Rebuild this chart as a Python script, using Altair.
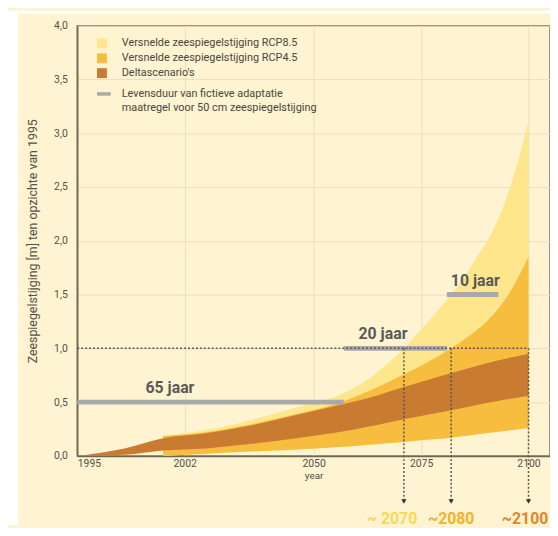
import altair as alt
import pandas as pd

# ---------------- data ----------------
x_ticks = [1995, 2020, 2050, 2075, 2100]
x_tick_labels = ["1995", "2002", "2050", "2075", "2100"]
y_ticks = [0.0, 0.5, 1.0, 1.5, 2.0, 2.5, 3.0, 3.5, 4.0]

delta_years = [1995, 2006, 2015, 2025, 2035, 2046, 2055, 2065, 2071, 2082, 2090, 2100]
delta_low = [0.0, 0.01, 0.05, 0.07, 0.11, 0.165, 0.215, 0.29, 0.34, 0.425, 0.49, 0.56]
delta_high = [0.0, 0.07, 0.165, 0.21, 0.28, 0.38, 0.465, 0.565, 0.64, 0.77, 0.86, 0.95]

rcp45_years = [2015, 2025, 2035, 2046, 2055, 2065, 2071, 2076, 2082, 2086, 2090, 2095, 2100]
rcp45_low = [0.0, 0.02, 0.04, 0.06, 0.08, 0.11, 0.13, 0.15, 0.17, 0.19, 0.21, 0.235, 0.26]
rcp45_high = [0.185, 0.22, 0.29, 0.39, 0.48, 0.64, 0.76, 0.86, 1.0, 1.11, 1.24, 1.48, 1.85]

rcp85_years = [2015, 2025, 2035, 2046, 2055, 2063, 2071, 2078, 2085, 2088, 2092, 2096, 2100]
rcp85_low = [0.0, 0.02, 0.04, 0.06, 0.08, 0.105, 0.13, 0.155, 0.185, 0.20, 0.22, 0.24, 0.26]
rcp85_high = [0.185, 0.24, 0.33, 0.45, 0.55, 0.72, 1.0, 1.31, 1.66, 1.85, 2.12, 2.53, 3.11]

bar_labels = ["65 jaar", "20 jaar", "10 jaar"]
bar_start = [1995, 2057, 2081]
bar_end = [2057, 2081, 2093]
bar_level = [0.5, 1.0, 1.5]

threshold_level = 1.0
threshold_span = [1995, 2100]

marker_years = [2071, 2082, 2100]
marker_labels = ["~ 2070", "~2080", "~2100"]

legend_labels = [
    "Versnelde zeespiegelstijging RCP8.5",
    "Versnelde zeespiegelstijging RCP4.5",
    "Deltascenario's",
]
legend_bar_lines = [
    "Levensduur van fictieve adaptatie",
    "maatregel voor 50 cm zeespiegelstijging",
]

y_title = "Zeespiegelstijging [m] ten opzichte van 1995"
x_title = "year"

# ---------------- styles ----------------
BG = "#FEF4D2"
C85 = "#FDE68C"
C45 = "#F6BD3F"
CDELTA = "#C97B32"
CBAR = "#A9A9A9"
CTEXT = "#4A463C"
FONT = "Roboto"
marker_colors = ["#F8D955", "#F2B22C", "#E0862A"]
marker_align = ["center", "center", "right"]
marker_dx = [-12, 0, 20]
bar_label_dx = [69, 15, 4]

W, H = 478, 435
x_scale = alt.Scale(domain=[1995, 2105], nice=False, zero=False)
y_scale = alt.Scale(domain=[0, 4], nice=False)

expr = "datum.label"
for v, lab in zip(reversed(x_ticks), reversed(x_tick_labels)):
    expr = f"datum.value == {v} ? '{lab}' : ({expr})"

x_axis = alt.Axis(
    values=x_ticks, labelExpr=expr, title=x_title, grid=True, ticks=False,
    labelPadding=3, titlePadding=1, labelFontSize=10.5, titleFontSize=10,
    titleFontWeight="normal",
)
y_axis = alt.Axis(
    values=y_ticks, labelExpr="replace(format(datum.value, '.1f'), '.', ',')",
    title=y_title, grid=True, ticks=False, labelPadding=10,
    labelFontSize=10.5, titleFontSize=12.5, titleFontWeight="normal",
    titleX=-45, titleY=H / 2, titleAngle=270, titleAlign="center",
    titleBaseline="middle",
)

one = pd.DataFrame({"a": [0]})


def band(years, lo, hi, color, axes=False):
    df = pd.DataFrame({"year": years, "lo": lo, "hi": hi})
    if axes:
        xe = alt.X("year:Q", scale=x_scale, axis=x_axis)
        ye = alt.Y("lo:Q", scale=y_scale, axis=y_axis)
    else:
        xe = alt.X("year:Q", scale=x_scale)
        ye = alt.Y("lo:Q", scale=y_scale)
    return alt.Chart(df).mark_area(color=color, opacity=1, interpolate="monotone").encode(
        x=xe, y=ye, y2="hi:Q",
    )


layers = [
    band(rcp85_years, rcp85_low, rcp85_high, C85, axes=True),
    band(rcp45_years, rcp45_low, rcp45_high, C45),
    band(delta_years, delta_low, delta_high, CDELTA),
]

bars_df = pd.DataFrame({"label": bar_labels, "start": bar_start, "end": bar_end, "level": bar_level})
layers.append(
    alt.Chart(bars_df).mark_rule(strokeWidth=5, color=CBAR, strokeCap="butt").encode(
        x=alt.X("start:Q", scale=x_scale), x2="end:Q",
        y=alt.Y("level:Q", scale=y_scale),
    )
)

thr_df = pd.DataFrame({"start": [threshold_span[0]], "end": [threshold_span[1]], "level": [threshold_level]})
layers.append(
    alt.Chart(thr_df).mark_rule(strokeDash=[2, 2], strokeWidth=1.5, color="#5A5650").encode(
        x=alt.X("start:Q", scale=x_scale), x2="end:Q",
        y=alt.Y("level:Q", scale=y_scale),
    )
)

mk_df = pd.DataFrame({"year": marker_years, "label": marker_labels,
                      "level": [threshold_level] * len(marker_years)})
layers.append(
    alt.Chart(mk_df).mark_rule(strokeDash=[2, 2], strokeWidth=1.5, color="#5A5650").encode(
        x=alt.X("year:Q", scale=x_scale),
        y=alt.Y("level:Q", scale=y_scale),
        y2=alt.value(H + 45),
    )
)
layers.append(
    alt.Chart(mk_df).mark_point(shape="triangle-down", filled=True, size=28, color="#333333", opacity=1).encode(
        x=alt.X("year:Q", scale=x_scale),
        y=alt.value(H + 46),
    )
)
for i in range(len(marker_years)):
    layers.append(
        alt.Chart(mk_df.iloc[[i]]).mark_text(
            font=FONT, fontSize=16, fontWeight="bold", color=marker_colors[i],
            align=marker_align[i], baseline="middle", dx=marker_dx[i],
        ).encode(
            x=alt.X("year:Q", scale=x_scale),
            y=alt.value(H + 64),
            text="label:N",
        )
    )

for i in range(len(bar_labels)):
    layers.append(
        alt.Chart(bars_df.iloc[[i]]).mark_text(
            font=FONT, fontSize=16, fontWeight="bold", color="#5A5A58",
            align="left", baseline="middle", dx=bar_label_dx[i], dy=-14,
        ).encode(
            x=alt.X("start:Q", scale=x_scale),
            y=alt.Y("level:Q", scale=y_scale),
            text="label:N",
        )
    )

# legend (drawn by hand, inside the plot)
leg_colors = [C85, C45, CDELTA]
for i, lab in enumerate(legend_labels):
    cy = 18 + 15 * i
    layers.append(
        alt.Chart(one).mark_rect(color=leg_colors[i]).encode(
            x=alt.value(20), x2=alt.value(30), y=alt.value(cy - 5), y2=alt.value(cy + 5)
        )
    )
    layers.append(
        alt.Chart(one).mark_text(font=FONT, fontSize=11, color=CTEXT, align="left", baseline="middle").encode(
            x=alt.value(45), y=alt.value(cy), text=alt.value(lab)
        )
    )
cy = 18 + 15 * 3 + 6
layers.append(
    alt.Chart(one).mark_rule(strokeWidth=3.5, color=CBAR).encode(
        x=alt.value(20), x2=alt.value(34), y=alt.value(cy)
    )
)
for j, lab in enumerate(legend_bar_lines):
    layers.append(
        alt.Chart(one).mark_text(font=FONT, fontSize=11, color=CTEXT, align="left", baseline="middle").encode(
            x=alt.value(45), y=alt.value(cy + 14 * j), text=alt.value(lab)
        )
    )

# white page strips at top/left (outside plot)
layers.append(
    alt.Chart(one).mark_rect(color="white").encode(
        x=alt.value(-70), x2=alt.value(-60), y=alt.value(-15), y2=alt.value(H + 70)
    )
)
layers.append(
    alt.Chart(one).mark_rect(color="white").encode(
        x=alt.value(-70), x2=alt.value(W + 2), y=alt.value(-15), y2=alt.value(-12)
    )
)

chart = alt.layer(*layers).properties(
    width=W, height=H, autosize="none", background=BG,
    padding={"left": 70, "top": 15, "right": 0, "bottom": 70},
).configure_view(
    stroke="#7B7457", strokeWidth=1.5, fill=BG
).configure_axis(
    domainColor="#6E6852", domainWidth=1.5, gridColor="#EADFC2", gridWidth=1,
    labelColor="#55504A", titleColor="#55504A", labelFont=FONT, titleFont=FONT,
)

chart.save("out.html", embed_options={"renderer": "svg", "actions": False})
